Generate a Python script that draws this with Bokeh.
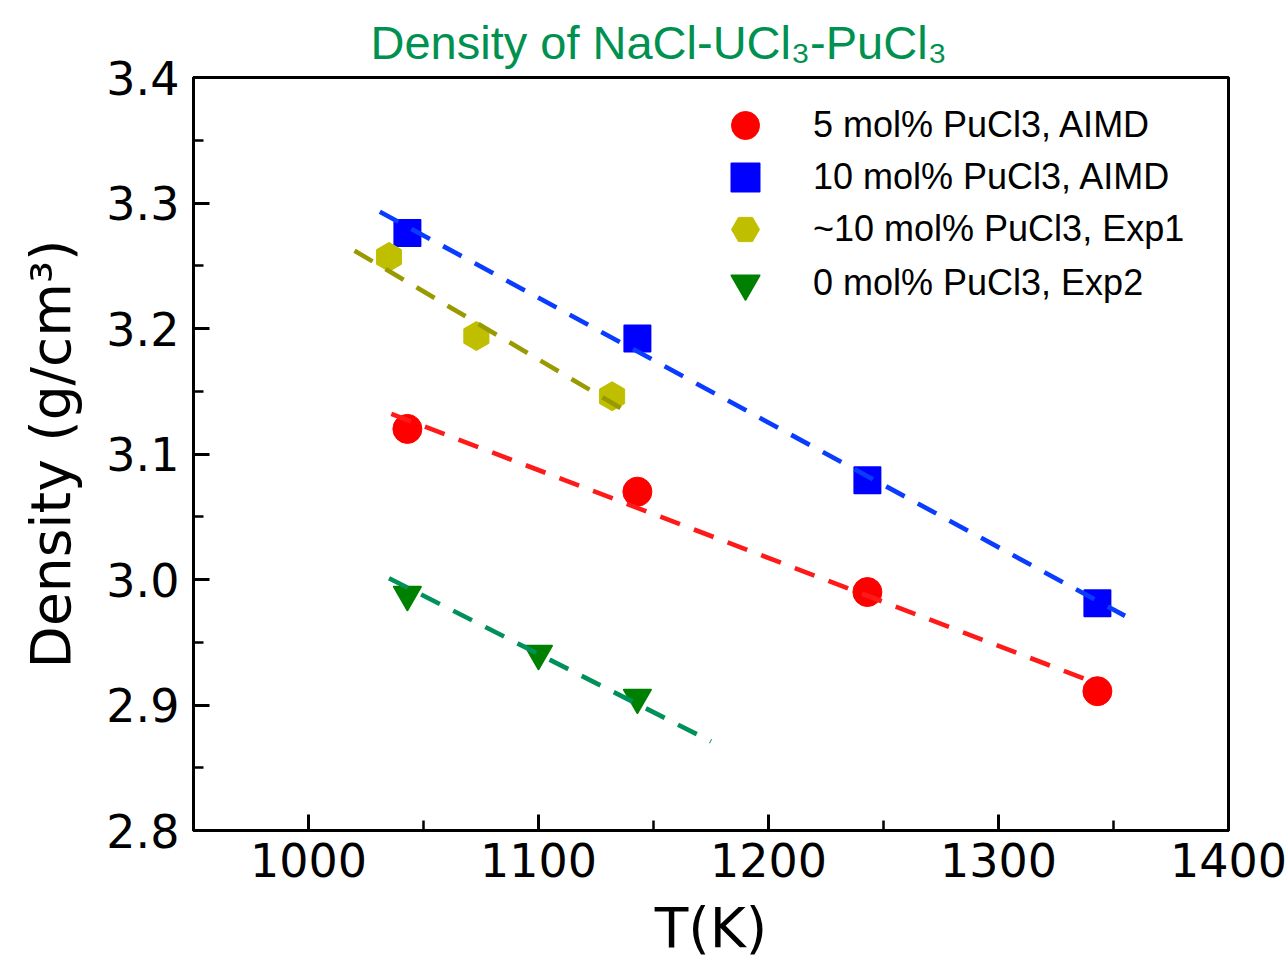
import numpy as np
from bokeh.plotting import figure
from bokeh.models import Range1d, Legend, LegendItem, FixedTicker, PrintfTickFormatter
from bokeh.embed import file_html
from bokeh.resources import INLINE

# ---- data ----
t_aimd = [1043, 1143, 1243, 1343]
rho_5_aimd = [3.120, 3.070, 2.990, 2.911]
rho_10_aimd = [3.276, 3.192, 3.079, 2.981]

t_exp1 = [1035, 1073, 1132]
rho_exp1 = [3.257, 3.194, 3.146]

t_exp2 = [1043, 1100, 1143]
rho_exp2 = [2.988, 2.941, 2.906]

# fitted trend lines (end points)
fit_5_t = [1036, 1343]
fit_5_rho = [3.132, 2.917]
fit_10_t = [1031, 1355]
fit_10_rho = [3.293, 2.971]
fit_exp1_t = [1020, 1140]
fit_exp1_rho = [3.262, 3.132]
fit_exp2_t = [1035, 1175]
fit_exp2_rho = [3.001, 2.871]

labels = ["5 mol% PuCl3, AIMD", "10 mol% PuCl3, AIMD",
          "~10 mol% PuCl3, Exp1", "0 mol% PuCl3, Exp2"]

x_ticks = [1000, 1100, 1200, 1300, 1400]
y_ticks = [2.8, 2.9, 3.0, 3.1, 3.2, 3.3, 3.4]

p = figure(width=1288, height=962, output_backend="svg", toolbar_location=None,
           x_range=Range1d(950, 1400), y_range=Range1d(2.8, 3.4),
           min_border_left=193, min_border_right=60, min_border_top=77,
           min_border_bottom=132,
           title="Density of NaCl-UCl\u2083-PuCl\u2083")

p.background_fill_color = "white"
p.border_fill_color = "white"
p.grid.visible = False
p.outline_line_color = "black"
p.outline_line_width = 3

p.title.text_font = "Liberation Sans"
p.title.text_font_size = "47px"
p.title.text_font_style = "normal"
p.title.text_color = "#009150"
p.title.align = "left"
p.title.offset = 177
p.title.standoff = 17

for ax in (p.xaxis[0], p.yaxis[0]):
    ax.axis_line_width = 3
    ax.major_tick_line_width = 3
    ax.minor_tick_line_width = 2.5
    ax.major_tick_in = 16
    ax.major_tick_out = 0
    ax.minor_tick_in = 10
    ax.minor_tick_out = 0
    ax.major_label_text_font = "DejaVu Sans"
    ax.major_label_text_font_size = "46px"
    ax.major_label_text_color = "black"
    ax.axis_label_text_font = "DejaVu Sans"
    ax.axis_label_text_font_size = "55px"
    ax.axis_label_text_font_style = "normal"
    ax.axis_label_text_color = "black"

p.xaxis.ticker = FixedTicker(ticks=x_ticks, minor_ticks=[950, 1050, 1150, 1250, 1350])
p.yaxis.ticker = FixedTicker(ticks=y_ticks, minor_ticks=[2.85, 2.95, 3.05, 3.15, 3.25, 3.35])
p.yaxis.formatter = PrintfTickFormatter(format="%.1f")
p.xaxis.major_label_standoff = 12
p.yaxis.major_label_standoff = 14
p.xaxis.axis_label = "T(K)"
p.yaxis.axis_label = "Density (g/cm\u00b3)"
p.xaxis.axis_label_standoff = 16
p.yaxis.axis_label_standoff = 20

# markers
r1 = p.scatter(t_aimd, rho_5_aimd, marker="circle", size=29,
               fill_color="#ff0000", line_color="#ff0000", line_width=1)
r2 = p.scatter(t_aimd, rho_10_aimd, marker="square", size=26,
               fill_color="#0000ff", line_color="#0000ff", line_width=2,
               line_join="round")
r3 = p.scatter(t_exp1, rho_exp1, marker="hex", size=29, angle=np.pi / 2,
               fill_color="#bfbf00", line_color="#bfbf00", line_width=1)
r4 = p.scatter(t_exp2, rho_exp2, marker="inverted_triangle", size=27,
               fill_color="#008000", line_color="#008000", line_width=2,
               line_join="round")

# dashed fits drawn over markers
dash = "21 15"
lw = 4.6
p.line(fit_5_t, fit_5_rho, line_color="#ff1a1a", line_width=lw, line_dash=dash)
p.line(fit_10_t, fit_10_rho, line_color="#0a3cff", line_width=lw, line_dash=dash)
p.line(fit_exp1_t, fit_exp1_rho, line_color="#999900", line_width=lw, line_dash=dash)
p.line(fit_exp2_t, fit_exp2_rho, line_color="#00905a", line_width=lw, line_dash=dash)

# one legend per entry so the rows can sit closer than the glyph box
legend_rows = [(r1, labels[0], 670), (r2, labels[1], 618),
               (r3, labels[2], 566), (r4, labels[3], 512)]
for rend, lab, vy in legend_rows:
    lg = Legend(items=[LegendItem(label=lab, renderers=[rend])], location=(517, vy))
    lg.label_text_font = "Liberation Sans"
    lg.label_text_font_size = "36px"
    lg.label_text_color = "black"
    lg.glyph_width = 70
    lg.glyph_height = 70
    lg.label_height = 52
    lg.label_standoff = 33
    lg.spacing = 0
    lg.padding = 0
    lg.margin = 0
    lg.border_line_alpha = 0
    lg.background_fill_alpha = 0
    p.add_layout(lg)

open("out.html", "w").write(file_html(p, INLINE))
